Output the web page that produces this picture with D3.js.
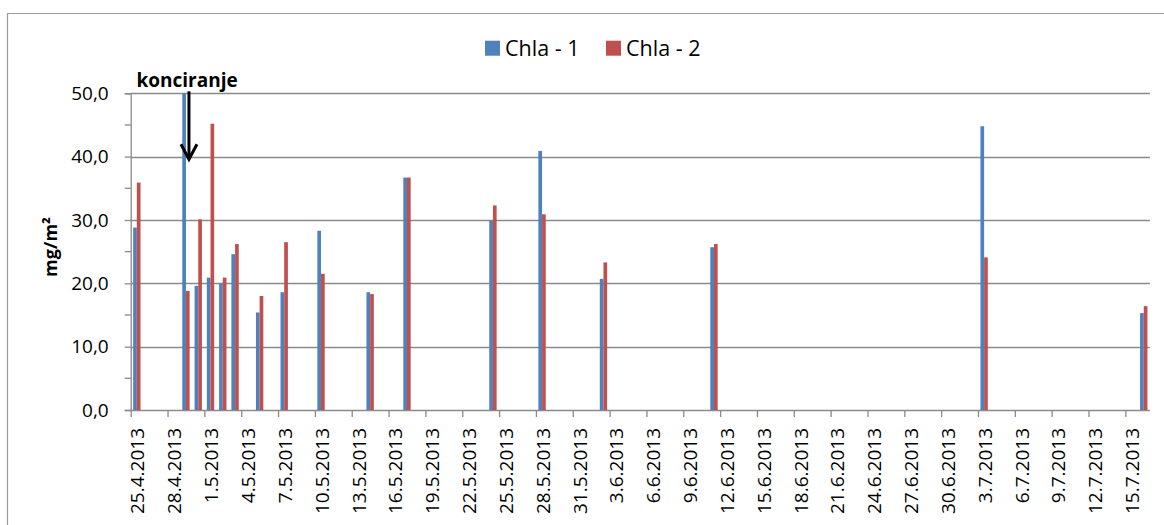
<!DOCTYPE html>
<html><head><meta charset="utf-8">
<script src="https://cdn.jsdelivr.net/npm/d3@7"></script>
<style>
body{margin:0;background:#fff;}
text{font-family:"Open Sans",sans-serif;fill:#000;}
</style></head>
<body><svg id="c" width="1164" height="525"></svg>
<script>
const dates = ["25.4.2013","29.4.2013","30.4.2013","1.5.2013","2.5.2013","3.5.2013","5.5.2013","7.5.2013","10.5.2013","14.5.2013","17.5.2013","24.5.2013","28.5.2013","2.6.2013","11.6.2013","3.7.2013","16.7.2013"];
const chla1 = [28.8,50.0,19.6,20.9,20.0,24.6,15.4,18.6,28.3,18.6,36.7,29.9,40.9,20.7,25.7,44.8,15.3];
const chla2 = [35.9,18.8,30.1,45.2,20.9,26.2,18.0,26.5,21.5,18.3,36.7,32.3,30.9,23.3,26.2,24.1,16.4];
const seriesNames = ["Chla - 1","Chla - 2"];
const colors = ["#4F81BD","#C0504D"];
const xTickLabels = ["25.4.2013","28.4.2013","1.5.2013","4.5.2013","7.5.2013","10.5.2013","13.5.2013","16.5.2013","19.5.2013","22.5.2013","25.5.2013","28.5.2013","31.5.2013","3.6.2013","6.6.2013","9.6.2013","12.6.2013","15.6.2013","18.6.2013","21.6.2013","24.6.2013","27.6.2013","30.6.2013","3.7.2013","6.7.2013","9.7.2013","12.7.2013","15.7.2013"];
const yTicks = [0,10,20,30,40,50];
const yMinorTicks = [5,15,25,35,45];
const axisStart = "25.4.2013", axisEnd = "17.7.2013";
const yTitle = "mg/m²";
const annotation = "konciranje";

const parse = s => { const [d,m,y] = s.split(".").map(Number); return new Date(Date.UTC(y,m-1,d)); };
const DAY = 86400000;
const svg = d3.select("#c");
const L = 130.7, R = 1149.9, T = 93.3, B = 410;
const x = d3.scaleUtc().domain([parse(axisStart), parse(axisEnd)]).range([L, R]);
const y = d3.scaleLinear().domain([0,50]).range([B, T]);
const dayW = x(new Date(parse(axisStart).getTime()+DAY)) - L;
const barW = dayW*0.3;
const grid = "#8a8a8a";

// outer border
svg.append("path").attr("d", `M7.5,530 V13.5 H1170`).attr("fill","none").attr("stroke","#9a9a9a").attr("stroke-width",1.2);

// gridlines
svg.append("g").selectAll("line").data(yTicks.slice(1)).join("line")
  .attr("x1",L).attr("x2",R).attr("y1",d=>Math.round(y(d))+0.5).attr("y2",d=>Math.round(y(d))+0.5)
  .attr("stroke",grid).attr("stroke-width",1.3);

// y axis
const yAxis = d3.axisLeft(y).tickValues(yTicks).tickSize(6).tickPadding(16).tickFormat(d => d.toFixed(1).replace(".",","));
const gy = svg.append("g").attr("transform",`translate(${L},0)`).call(yAxis);
gy.select(".domain").attr("stroke",grid).attr("stroke-width",1.3);
gy.selectAll(".tick line").attr("stroke",grid).attr("stroke-width",1.3);
gy.selectAll(".tick text").attr("font-size",19).attr("font-family","Open Sans").attr("fill","#000");
svg.append("g").selectAll("line").data(yMinorTicks).join("line")
  .attr("x1",L-6).attr("x2",L).attr("y1",d=>y(d)).attr("y2",d=>y(d)).attr("stroke",grid).attr("stroke-width",1.3);

// x axis
const tickDates = xTickLabels.map(parse);
const xAxis = d3.axisBottom(x).tickValues(tickDates).tickSize(7).tickFormat("");
const gx = svg.append("g").attr("transform",`translate(0,${B})`).call(xAxis);
gx.select(".domain").attr("stroke",grid).attr("stroke-width",1.3).attr("d",`M${L},0.5H${R}`);
gx.selectAll(".tick line").attr("stroke",grid).attr("stroke-width",1.3);
svg.append("g").selectAll("text").data(xTickLabels).join("text")
  .attr("transform", d => `translate(${x(parse(d))+dayW/2+1},${B+18}) rotate(-90)`)
  .attr("text-anchor","end").attr("dy","0.35em").attr("font-size",19).text(d=>d);

// bars
const series = [chla1, chla2];
series.forEach((vals, si) => {
  svg.append("g").selectAll("rect").data(dates.map((d,i)=>({d:parse(d), v:vals[i]}))).join("rect")
    .attr("x", d => x(d.d) + dayW/2 - barW + si*barW)
    .attr("width", barW)
    .attr("y", d => y(d.v)).attr("height", d => B - y(d.v))
    .attr("fill", colors[si]);
});

// legend
const lg = svg.append("g");
const legX = [485, 606];
seriesNames.forEach((n,i)=>{
  lg.append("rect").attr("x",legX[i]).attr("y",40.7).attr("width",15).attr("height",15).attr("fill",colors[i]);
  lg.append("text").attr("x",legX[i]+20).attr("y",55.5).attr("font-size",21.5).text(n);
});

// y title
svg.append("text").attr("transform","translate(57,247) rotate(-90)").attr("text-anchor","middle")
  .attr("font-size",18).attr("font-weight","bold").text(yTitle);

// annotation
svg.append("text").attr("x",136.5).attr("y",86.5).attr("font-size",19).attr("font-weight","bold").text(annotation);
const ax = x(parse(dates[1])) + dayW/2 + 3;
svg.append("path").attr("d",`M${ax},${T-2} V${T+66}`).attr("stroke","#000").attr("stroke-width",3).attr("fill","none");
svg.append("path").attr("d",`M${ax-8},${T+51} L${ax},${T+66} L${ax+8},${T+51}`).attr("stroke","#000").attr("stroke-width",3).attr("fill","none");
</script></body></html>
